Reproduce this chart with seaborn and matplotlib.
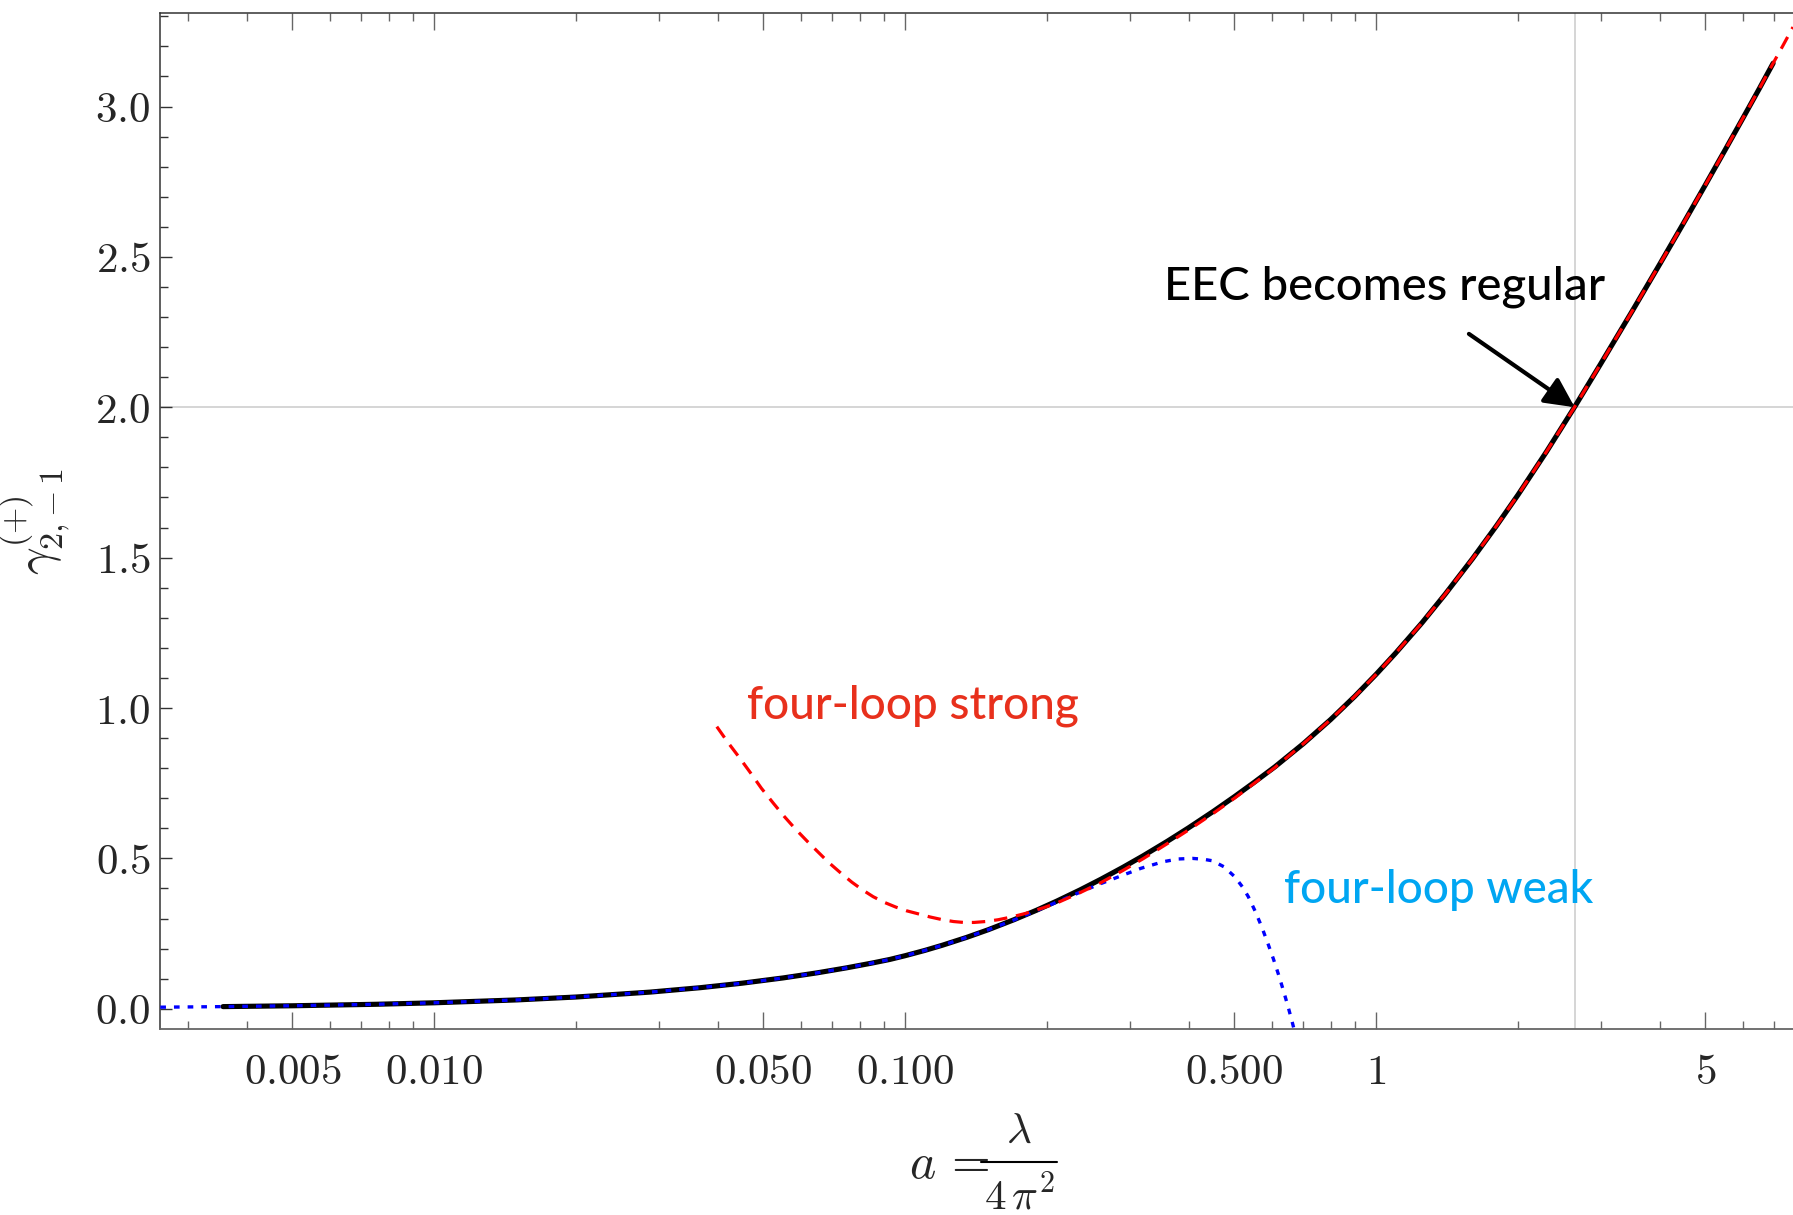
import numpy as np
import pandas as pd
import matplotlib
matplotlib.use("Agg")
import matplotlib.pyplot as plt
from matplotlib.lines import Line2D
from matplotlib.ticker import FixedLocator, FixedFormatter, MultipleLocator, FuncFormatter
import seaborn as sns

# ---------------- data ----------------
# exact (black, solid) curve
black_a = [0.00356, 0.005, 0.0075, 0.01, 0.015, 0.02, 0.0287, 0.0367, 0.045, 0.055,
           0.065, 0.075, 0.085, 0.0927, 0.1, 0.11, 0.12, 0.135, 0.15, 0.17,
           0.19, 0.21, 0.235, 0.26, 0.29, 0.32, 0.36, 0.40, 0.45, 0.5,
           0.55, 0.609, 0.7, 0.8, 0.9, 1.0, 1.1, 1.25, 1.4, 1.6,
           1.8, 2.0, 2.3, 2.638, 3.0, 3.5, 4.0, 4.5, 5.0, 5.5,
           6.0, 6.5, 6.96]
black_gamma = [0.0071, 0.0099, 0.0148, 0.0198, 0.0294, 0.0390, 0.0553, 0.0700, 0.0849, 0.1024,
               0.1194, 0.1359, 0.1519, 0.1639, 0.1765, 0.1939, 0.2114, 0.2373, 0.2627, 0.2958,
               0.3276, 0.3583, 0.3951, 0.4303, 0.4705, 0.5086, 0.5568, 0.6022, 0.6554, 0.7053,
               0.7523, 0.8042, 0.8813, 0.9616, 1.0386, 1.1125, 1.1830, 1.2830, 1.3780, 1.4960,
               1.6060, 1.7090, 1.8530, 2.0015, 2.1460, 2.3215, 2.4763, 2.6146, 2.7400, 2.8548,
               2.9605, 3.0585, 3.1440]

# four-loop strong coupling (red, dashed)
strong_a = [0.0398, 0.042, 0.0445, 0.047, 0.0495, 0.0525, 0.0553, 0.0585, 0.062, 0.0655,
            0.0687, 0.073, 0.077, 0.081, 0.0855, 0.0905, 0.0955, 0.1005, 0.1063, 0.113,
            0.12, 0.1266, 0.133, 0.14, 0.148, 0.1575, 0.168, 0.18, 0.1959, 0.21,
            0.235, 0.26, 0.29, 0.32, 0.36, 0.40, 0.45, 0.5, 0.55, 0.609,
            0.7, 0.8, 0.9, 1.0, 1.1, 1.25, 1.4, 1.6, 1.8, 2.0,
            2.3, 2.638, 3.0, 3.5, 4.0, 4.5, 5.0, 5.5, 6.0, 6.5,
            6.96, 7.3, 7.67]
strong_gamma = [0.938, 0.886, 0.834, 0.783, 0.733, 0.683, 0.640, 0.597, 0.556, 0.519,
                0.487, 0.451, 0.421, 0.396, 0.3725, 0.353, 0.338, 0.326, 0.316, 0.305,
                0.296, 0.290, 0.287, 0.287, 0.290, 0.296, 0.305, 0.317, 0.335, 0.352,
                0.386, 0.419, 0.460, 0.499, 0.549, 0.595, 0.649, 0.700, 0.749, 0.802,
                0.8813, 0.9616, 1.0386, 1.1125, 1.1830, 1.2830, 1.3780, 1.4960, 1.6060, 1.7090,
                1.8530, 2.0015, 2.1460, 2.3215, 2.4763, 2.6146, 2.7400, 2.8548, 2.9605, 3.0585,
                3.1440, 3.2023, 3.2642]

# four-loop weak coupling (blue, dotted)
weak_a = [0.00262, 0.00356, 0.005, 0.0075, 0.01, 0.015, 0.02, 0.0287, 0.0367, 0.045,
          0.055, 0.065, 0.075, 0.085, 0.0927, 0.1, 0.11, 0.12, 0.135, 0.15,
          0.17, 0.19, 0.21, 0.233, 0.26, 0.284, 0.3165, 0.353, 0.38, 0.407,
          0.43, 0.449, 0.475, 0.5006, 0.52, 0.535, 0.553, 0.571, 0.59, 0.605,
          0.62, 0.635, 0.65, 0.662, 0.67]
weak_gamma = [0.0052, 0.0071, 0.0099, 0.0148, 0.0198, 0.0294, 0.0390, 0.0553, 0.0700, 0.0849,
              0.1024, 0.1194, 0.1359, 0.1519, 0.1639, 0.1765, 0.1939, 0.2114, 0.2373, 0.2627,
              0.2950, 0.3260, 0.3550, 0.3850, 0.4160, 0.4390, 0.4670, 0.4890, 0.4980, 0.5000,
              0.4970, 0.4920, 0.4720, 0.4390, 0.4050, 0.3725, 0.3250, 0.2730, 0.2130, 0.1650,
              0.1140, 0.0610, 0.0060, -0.0400, -0.0720]

# reference point where EEC becomes regular
regular_a = 2.638
regular_gamma = 2.0
arrow_tail = (1.573, 2.244)

x_major = [0.005, 0.01, 0.05, 0.1, 0.5, 1, 5]
x_major_labels = ["0.005", "0.010", "0.050", "0.100", "0.500", "1", "5"]
x_minor = [0.003, 0.004, 0.006, 0.007, 0.008, 0.009, 0.02, 0.03, 0.04, 0.06, 0.07, 0.08, 0.09,
           0.2, 0.3, 0.4, 0.6, 0.7, 0.8, 0.9, 2, 3, 4, 6, 7]

# ---------------- style ----------------
sns.set_style("white")
plt.rcParams["mathtext.fontset"] = "cm"
plt.rcParams["font.family"] = ["Lato", "DejaVu Sans"]

W, H = 1793, 1215
fig = plt.figure(figsize=(W / 100, H / 100), dpi=100)
ax = fig.add_axes([0.0894, 0.1528, 0.9106, 0.83625])
ax.set_xscale("log")

df_black = pd.DataFrame({"a": black_a, "gamma": black_gamma})
df_strong = pd.DataFrame({"a": strong_a, "gamma": strong_gamma})
df_weak = pd.DataFrame({"a": weak_a, "gamma": weak_gamma})

ax.axvline(regular_a, color="#d2d2d2", lw=1.3, zorder=0)
ax.axhline(regular_gamma, color="#d2d2d2", lw=1.3, zorder=0)

sns.lineplot(data=df_black, x="a", y="gamma", ax=ax, color="black", lw=3.7,
             sort=False, estimator=None, zorder=2)
sns.lineplot(data=df_weak, x="a", y="gamma", ax=ax, color="#0000ff", lw=2.4,
             linestyle=(0, (1.7, 2.4)), sort=False, estimator=None, zorder=3)
sns.lineplot(data=df_strong, x="a", y="gamma", ax=ax, color="#ff0000", lw=2.3,
             linestyle=(0, (4.2, 2.8)), sort=False, estimator=None, zorder=4)

ax.set_xlim(0.00262, 7.67)
ax.set_ylim(-0.0685, 3.31)

# ticks
ax.xaxis.set_major_locator(FixedLocator(x_major))
ax.xaxis.set_major_formatter(FixedFormatter([r"$%s$" % s for s in x_major_labels]))
ax.xaxis.set_minor_locator(FixedLocator(x_minor))
ax.xaxis.set_minor_formatter(FixedFormatter([""] * len(x_minor)))
ax.yaxis.set_major_locator(MultipleLocator(0.5))
ax.yaxis.set_minor_locator(MultipleLocator(0.1))
ax.yaxis.set_major_formatter(FuncFormatter(lambda v, p: r"$%.1f$" % v))

ax.tick_params(axis="x", which="both", direction="in", top=True, bottom=True,
               color="#666666", width=1.0, labelsize=31, pad=17)
ax.tick_params(axis="x", which="major", length=12)
ax.tick_params(axis="x", which="minor", length=6)
ax.tick_params(axis="y", which="both", direction="in", left=True, right=False,
               color="#333333", width=1.0, labelsize=31, pad=7)
ax.tick_params(axis="y", which="major", length=8.6)
ax.tick_params(axis="y", which="minor", length=5.5)

for side in ["left", "top"]:
    ax.spines[side].set_color("#333333")
    ax.spines[side].set_linewidth(1.1)
ax.spines["bottom"].set_color("#666666")
ax.spines["bottom"].set_linewidth(1.3)
ax.spines["right"].set_visible(False)

# y label
ax.set_xlabel("")
ax.set_ylabel(r"$\gamma^{(+)}_{2,\!-1}$", fontsize=35, rotation=90)
ax.yaxis.set_label_coords(-0.054, 0.5)

# x label: a = lambda / (4 pi^2), built from pieces so the fraction is full size
fig.text(909 / W, 1 - 1178 / H, r"$a\,=$", fontsize=36, ha="left", va="baseline")
fig.text(1019 / W, 1 - 1131 / H, r"$\lambda$", fontsize=31, ha="center", va="center")
fig.text(1019 / W, 1 - 1195 / H, r"$4\,\pi^2$", fontsize=31, ha="center", va="center")
fig.add_artist(Line2D([981 / W, 1057 / W], [1 - 1161.5 / H, 1 - 1161.5 / H],
                      transform=fig.transFigure, color="black", lw=1.5))

# annotations
ax.text(0.0461, 1.008, "four-loop strong", color="#e8301c", fontsize=33,
        fontweight="medium", ha="left", va="center")
ax.text(0.637, 0.396, "four-loop weak", color="#00a6f2", fontsize=33,
        fontweight="medium", ha="left", va="center")
ax.text(0.354, 2.40, "EEC becomes regular", color="black", fontsize=34,
        fontweight="medium", ha="left", va="center")
ax.annotate("", xy=(regular_a, regular_gamma), xytext=arrow_tail,
            arrowprops=dict(arrowstyle="-|>", lw=3.0, color="black",
                            mutation_scale=45, shrinkA=0, shrinkB=0), zorder=5)

fig.savefig("out.png", dpi=100)
